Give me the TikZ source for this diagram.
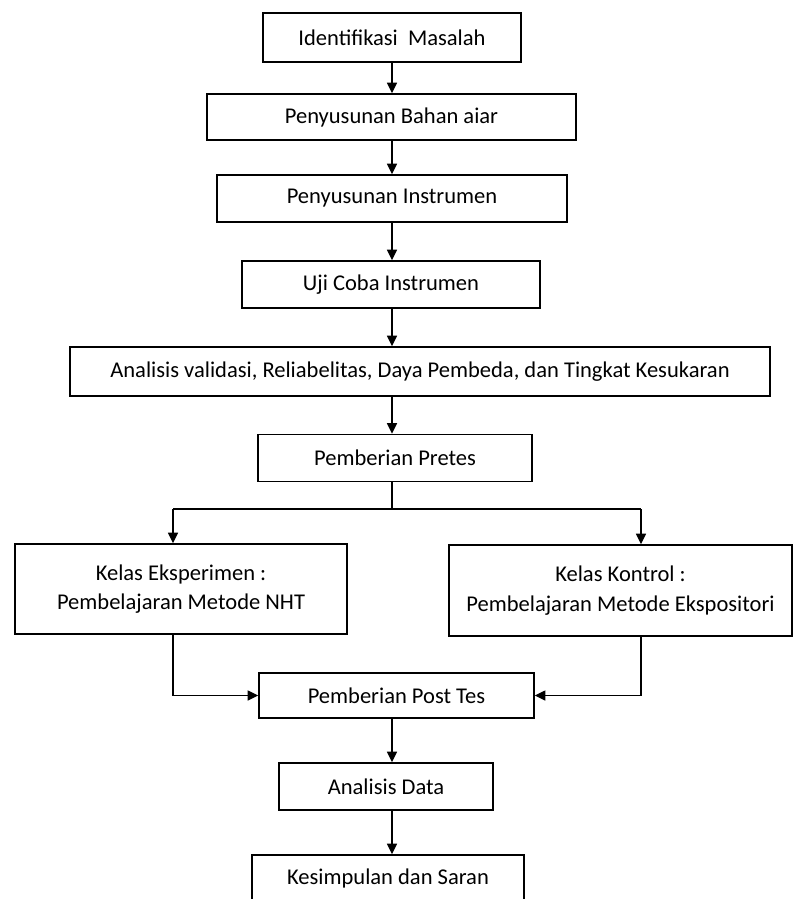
\documentclass[tikz,border=0pt]{standalone}
\usepackage{fontspec}
\setmainfont{Carlito}
\usetikzlibrary{arrows.meta}
\tikzset{
  bx/.style 2 args={draw=black, line width=1.1pt, minimum width={#1*0.75pt}, minimum height={#2*0.75pt}, inner sep=0pt, align=center, font=\fontsize{16.9}{22}\selectfont, text=black},
  arr/.style={line width=1.1pt, -{Triangle[length=8pt,width=7.5pt]}},
  ln/.style={line width=1.1pt}
}
\begin{document}
\begin{tikzpicture}[x=0.75pt,y=-0.75pt]
\clip (0,0) rectangle (794,899);
\fill[white] (0,0) rectangle (794,899);
\coordinate (sp) at (392,0);
\node[bx={258}{49}] (b1) at (392,37.5) {Identifikasi\ \ Masalah};
\node[bx={369}{46}] (b2) at (391.5,117) {Penyusunan Bahan aiar};
\node[bx={350}{47}] (b3) at (392,198.5) {Penyusunan Instrumen};
\node[bx={298}{47}] (b4) at (391,284.5) {Uji Coba Instrumen};
\node[bx={700}{49}] (b5) at (420,371.5) {Analisis validasi, Reliabelitas, Daya Pembeda, dan Tingkat Kesukaran};
\node[bx={274}{47}] (b6) at (395,458) {Pemberian Pretes};
\node[bx={332}{90}] (L) at (181,589) {Kelas Eksperimen :\\Pembelajaran Metode NHT};
\node[bx={343}{91}] (R) at (620.5,590.5) {Kelas Kontrol :\\Pembelajaran Metode Ekspositori};
\node[bx={275}{45}] (pt) at (396.5,695.5) {Pemberian Post Tes};
\node[bx={214}{47}] (ad) at (386,786.5) {Analisis Data};
\node[bx={272}{47}] (ks) at (388,878.5) {Kesimpulan dan Saran};
\coordinate (jl) at (173,509);
\coordinate (jr) at (641,509);
\draw[arr] (b1.south -| sp) -- (b2.north -| sp);
\draw[arr] (b2.south -| sp) -- (b3.north -| sp);
\draw[arr] (b3.south -| sp) -- (b4.north -| sp);
\draw[arr] (b4.south -| sp) -- (b5.north -| sp);
\draw[arr] (b5.south -| sp) -- (b6.north -| sp);
\draw[ln] (b6.south -| sp) -- (sp |- jl);
\draw[ln] (jl) -- (jr);
\draw[arr] (jl) -- (jl |- L.north);
\draw[arr] (jr) -- (jr |- R.north);
\draw[arr] (jl |- L.south) |- (pt.west);
\draw[arr] (jr |- R.south) |- (pt.east);
\draw[arr] (pt.south -| sp) -- (ad.north -| sp);
\draw[arr] (ad.south -| sp) -- (ks.north -| sp);
\end{tikzpicture}
\end{document}
